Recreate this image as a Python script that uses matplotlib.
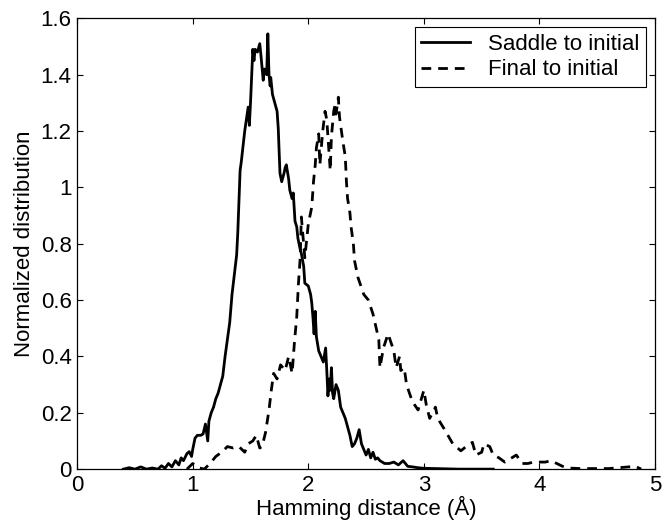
import matplotlib.pyplot as plt

plt.rcParams["font.family"] = ["Liberation Sans", "DejaVu Sans"]

# Saddle to initial (solid)
saddle_x = [0.40, 0.45, 0.50, 0.55, 0.60, 0.65, 0.70, 0.73, 0.76, 0.79,
            0.82, 0.85, 0.88, 0.90, 0.92, 0.95, 0.97, 0.99, 1.00, 1.02,
            1.04, 1.07, 1.09, 1.11, 1.13, 1.14, 1.16, 1.18, 1.20, 1.22,
            1.24, 1.26, 1.28, 1.30, 1.32, 1.34, 1.36, 1.38, 1.39, 1.41,
            1.42, 1.45, 1.48, 1.49, 1.50, 1.52, 1.53, 1.54, 1.56, 1.58,
            1.59, 1.61, 1.62, 1.64, 1.65, 1.66, 1.67, 1.675, 1.69, 1.71,
            1.73, 1.74, 1.755, 1.77, 1.79, 1.80, 1.81, 1.83, 1.84, 1.86,
            1.87, 1.885, 1.90, 1.91, 1.93, 1.94, 1.96, 1.97, 2.00, 2.02,
            2.03, 2.04, 2.05, 2.06, 2.07, 2.09, 2.11, 2.13, 2.15, 2.16,
            2.17, 2.18, 2.19, 2.20, 2.21, 2.22, 2.24, 2.26, 2.28, 2.30,
            2.32, 2.34, 2.36, 2.38, 2.40, 2.42, 2.44, 2.46, 2.48, 2.50,
            2.52, 2.54, 2.56, 2.58, 2.60, 2.62, 2.66, 2.70, 2.74, 2.78,
            2.82, 2.86, 2.90, 2.95, 3.00, 3.10, 3.20, 3.30, 3.60]
saddle_y = [0.0, 0.005, 0.0, 0.008, 0.0, 0.004, 0.0, 0.012, 0.003, 0.02,
            0.008, 0.03, 0.015, 0.04, 0.03, 0.055, 0.062, 0.045, 0.07, 0.11,
            0.12, 0.12, 0.125, 0.16, 0.10, 0.17, 0.20, 0.22, 0.25, 0.27,
            0.30, 0.33, 0.40, 0.46, 0.52, 0.62, 0.69, 0.76, 0.84, 1.06,
            1.09, 1.20, 1.285, 1.22, 1.30, 1.49, 1.45, 1.49, 1.48, 1.51,
            1.47, 1.38, 1.42, 1.40, 1.545, 1.40, 1.36, 1.39, 1.33, 1.30,
            1.27, 1.21, 1.05, 1.02, 1.05, 1.07, 1.08, 1.03, 0.99, 0.96,
            0.98, 0.88, 0.86, 0.82, 0.78, 0.765, 0.72, 0.66, 0.65, 0.62,
            0.59, 0.54, 0.48, 0.56, 0.47, 0.42, 0.40, 0.38, 0.43, 0.35,
            0.26, 0.32, 0.28, 0.36, 0.27, 0.25, 0.30, 0.28, 0.22, 0.20,
            0.18, 0.15, 0.12, 0.08, 0.09, 0.11, 0.14, 0.09, 0.07, 0.05,
            0.07, 0.04, 0.06, 0.035, 0.04, 0.03, 0.02, 0.02, 0.025, 0.015,
            0.03, 0.01, 0.008, 0.005, 0.003, 0.002, 0.001, 0.0, 0.0]

# Final to initial (dashed)
final_x = [0.95, 1.00, 1.05, 1.10, 1.15, 1.20, 1.25, 1.30, 1.35, 1.40,
           1.45, 1.48, 1.52, 1.55, 1.58, 1.60, 1.63, 1.66, 1.68, 1.70,
           1.73, 1.76, 1.80, 1.83, 1.86, 1.88, 1.90, 1.915, 1.93, 1.94,
           1.97, 2.00, 2.03, 2.045, 2.06, 2.07, 2.09, 2.10, 2.125, 2.145,
           2.16, 2.18, 2.19, 2.20, 2.22, 2.23, 2.24, 2.26, 2.27, 2.29,
           2.30, 2.32, 2.33, 2.34, 2.36, 2.37, 2.39, 2.40, 2.43, 2.48,
           2.52, 2.56, 2.61, 2.62, 2.65, 2.69, 2.74, 2.76, 2.79, 2.80,
           2.83, 2.85, 2.90, 2.95, 3.00, 3.02, 3.05, 3.10, 3.12, 3.18,
           3.25, 3.32, 3.38, 3.42, 3.45, 3.50, 3.52, 3.57, 3.60, 3.65,
           3.70, 3.80, 3.85, 3.90, 3.95, 4.05, 4.10, 4.15, 4.20, 4.25,
           4.35, 4.60, 4.83, 4.88]
final_y = [0.0, 0.02, 0.005, 0.0, 0.02, 0.045, 0.06, 0.08, 0.075, 0.08,
           0.06, 0.09, 0.10, 0.12, 0.075, 0.08, 0.13, 0.21, 0.28, 0.34,
           0.32, 0.37, 0.35, 0.40, 0.34, 0.45, 0.54, 0.66, 0.75, 0.895,
           0.75, 0.87, 0.93, 1.02, 1.08, 1.14, 1.19, 1.08, 1.20, 1.27,
           1.24, 1.12, 1.06, 1.18, 1.27, 1.29, 1.26, 1.32, 1.25, 1.19,
           1.16, 1.11, 1.02, 0.96, 0.91, 0.86, 0.80, 0.74, 0.68, 0.62,
           0.60, 0.55, 0.46, 0.36, 0.43, 0.48, 0.42, 0.36, 0.40, 0.35,
           0.36, 0.30, 0.24, 0.21, 0.28, 0.23, 0.18, 0.22, 0.18, 0.14,
           0.09, 0.065, 0.085, 0.095, 0.05, 0.06, 0.09, 0.08, 0.05, 0.04,
           0.025, 0.05, 0.02, 0.02, 0.025, 0.025, 0.03, 0.02, 0.01, 0.004,
           0.002, 0.002, 0.01, 0.0]

xticks = [0, 1, 2, 3, 4, 5]
yticks = [0, 0.2, 0.4, 0.6, 0.8, 1.0, 1.2, 1.4, 1.6]
ytick_labels = ["0", "0.2", "0.4", "0.6", "0.8", "1", "1.2", "1.4", "1.6"]

fig = plt.figure(figsize=(6.65, 5.23), dpi=100)
ax = fig.add_axes([0.116, 0.103, 0.869, 0.862])

ax.plot(saddle_x, saddle_y, color="black", lw=2.0, label="Saddle to initial")
ax.plot(final_x, final_y, color="black", lw=2.0, linestyle=(0, (3.5, 2.5)),
        label="Final to initial")

ax.set_xlim(0, 5)
ax.set_ylim(0, 1.6)
ax.set_xticks(xticks, [str(t) for t in xticks])
ax.set_yticks(yticks, ytick_labels)
ax.tick_params(direction="in", length=4.5, width=0.8, top=True, right=True,
               labelsize=16, pad=4)
for s in ax.spines.values():
    s.set_linewidth(0.9)

ax.set_xlabel("Hamming distance (Å)", fontsize=16, labelpad=0)
ax.set_ylabel("Normalized distribution", fontsize=16, labelpad=4)

leg = ax.legend(loc="upper right", fontsize=16, fancybox=False, framealpha=1,
                edgecolor="black", handlelength=2.2, borderaxespad=0.4,
                borderpad=0.3, labelspacing=0.2)
leg.get_frame().set_linewidth(0.8)

plt.savefig("out.png", dpi=100)
